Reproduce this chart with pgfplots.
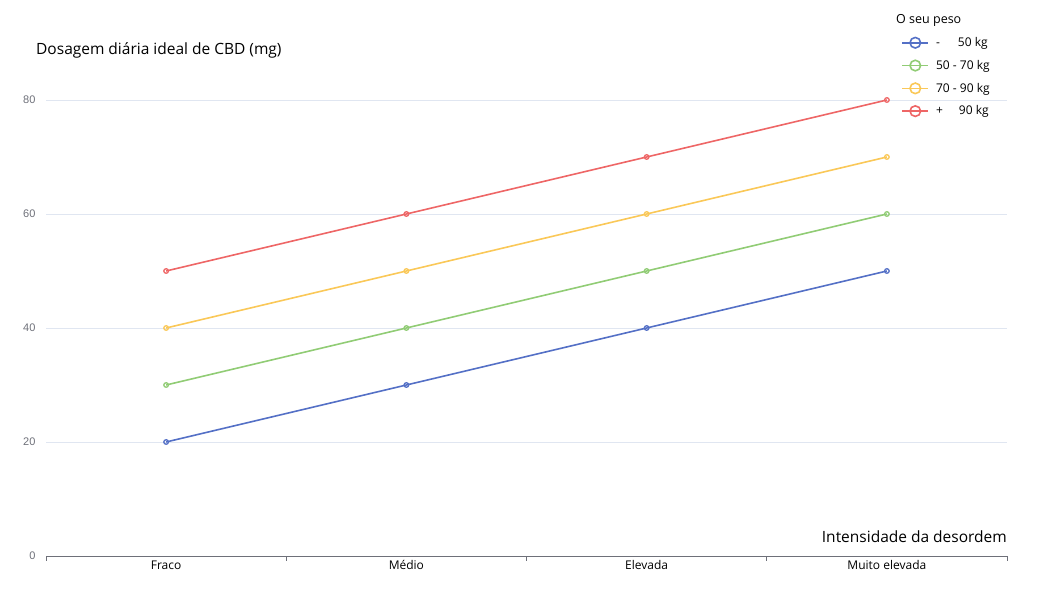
\documentclass[border=0pt]{standalone}
\usepackage{pgfplots}
\pgfplotsset{compat=1.18}
\usepackage{fontspec}
\setmainfont{Open Sans}
\newfontfamily\arialfont{Liberation Sans}
\definecolor{cblue}{HTML}{5470C6}
\definecolor{cgreen}{HTML}{91CC75}
\definecolor{cyellow}{HTML}{FAC858}
\definecolor{cred}{HTML}{EE6666}
\definecolor{gridc}{HTML}{E0E6F1}
\definecolor{axisc}{HTML}{6E7079}
\definecolor{tickc}{HTML}{6E7079}
\pgfplotstableread{
x a b c d
0 20 30 40 50
1 30 40 50 60
2 40 50 60 70
3 50 60 70 80
}\datatable
\begin{document}
\begin{tikzpicture}[x=1bp,y=1bp]
\path (0,0) rectangle (1052,590);
\begin{axis}[
  at={(46bp,34bp)}, anchor=south west,
  scale only axis, width=961bp, height=456bp,
  xmin=-0.5, xmax=3.5, ymin=0, ymax=80,
  clip=false,
  /pgf/number format/assume math mode=true,
  axis x line*=bottom, axis y line*=left,
  y axis line style={draw=none},
  x axis line style={draw=axisc, line width=0.8bp, -},
  ytick={0,20,40,60,80},
  ymajorgrids, grid style={gridc, line width=0.8bp},
  ytick style={draw=none},
  yticklabel style={font=\arialfont\fontsize{11bp}{12bp}\selectfont, text=tickc, xshift=-2bp},
  xtick={-0.5,0.5,1.5,2.5,3.5}, xticklabels={},
  xtick style={draw=axisc, line width=0.8bp},
  tick align=outside, major tick length=5bp,
  extra x ticks={0,1,2,3},
  extra x tick labels={Fraco,Médio,Elevada,Muito elevada},
  extra x tick style={major tick length=0pt, tick style={draw=none},
    xticklabel style={font=\fontsize{12bp}{14bp}\selectfont, text=black, yshift=-1bp}},
  every axis plot/.append style={line width=1.6bp, mark=o, mark size=2.3bp,
     mark options={fill=white, line width=1.3bp}},
  legend style={at={(0.890,1.142)}, anchor=north west, draw=none, fill=none,
     font=\fontsize{12bp}{14bp}\selectfont, row sep=8.2bp, inner sep=0pt},
  legend cell align=left,
  legend image code/.code={
    \draw[#1, mark=none] (0bp,0bp) -- (26bp,0bp);
    \draw[#1, mark size=5.3bp, mark options={fill=white, line width=1.6bp}] plot coordinates {(13bp,0bp)};
  },
]
\addplot[cblue] table[x=x,y=a] {\datatable};
\addlegendentry{\hspace*{5bp}-\hspace{18bp}50 kg}
\addplot[cgreen] table[x=x,y=b] {\datatable};
\addlegendentry{\hspace*{5bp}50 - 70 kg}
\addplot[cyellow] table[x=x,y=c] {\datatable};
\addlegendentry{\hspace*{5bp}70 - 90 kg}
\addplot[cred] table[x=x,y=d] {\datatable};
\addlegendentry{\hspace*{5bp}+\hspace{16bp}90 kg}
\end{axis}
\node[anchor=west, font=\fontsize{12.5bp}{14bp}\selectfont, inner sep=0pt] at (896bp,570bp) {O seu peso};
\node[anchor=west, font=\fontsize{15.5bp}{18bp}\selectfont, inner sep=0pt] at (36bp,540bp) {Dosagem diária ideal de CBD (mg)};
\node[anchor=east, font=\fontsize{15.5bp}{18bp}\selectfont, inner sep=0pt] at (1007bp,53bp) {Intensidade da desordem};
\end{tikzpicture}
\end{document}
